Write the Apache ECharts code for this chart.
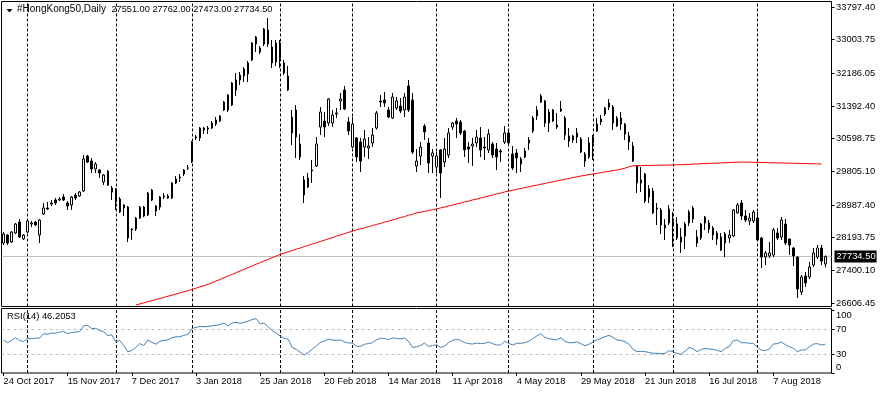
<!DOCTYPE html>
<html><head><meta charset="utf-8">
<script src="https://cdn.jsdelivr.net/npm/echarts@6/dist/echarts.min.js"></script>
<style>html,body{margin:0;padding:0;background:#fff}#c{width:880px;height:395px}</style>
</head><body><div id="c"></div>
<script>
// ---- data ----
const firstDay = '2017-10-24';
const lastDay = '2018-08-24';
const holidays = ['2017-12-25','2017-12-26','2018-01-01','2018-02-16','2018-02-19','2018-03-30',
  '2018-04-02','2018-04-03','2018-04-05','2018-05-01','2018-05-22','2018-06-18','2018-07-02'];

const openP = [
28063,28257,28087,28306,28573,28160,28330,28524,28573,28257,
28767,28913,29010,29108,29108,29180,29035,28986,29229,29205,
29326,30177,30055,29861,29837,29545,29812,29302,29351,28816,
28986,28937,28379,28403,28670,28937,28743,29351,28962,28937,
29180,29156,29156,29521,29666,29739,29880,30031,30614,30614,
30857,30833,30857,30954,31027,31295,31659,31416,31781,32145,
32121,32169,32510,32898,32801,32898,33239,32825,32461,32923,
32437,31781,31124,31295,30468,29594,29642,29812,29934,30881,
31027,30979,30979,31197,31513,31781,31003,30395,30614,30517,
30395,30371,30493,30857,31513,31538,31295,31100,31343,31392,
31295,31878,31538,29934,30177,30906,30493,30177,29909,30323,
30031,30201,30881,31027,31003,30784,30395,30420,30493,30614,
30395,30323,30468,30347,30298,30517,30736,30225,30250,30104,
30152,30493,30784,31149,31489,31513,30979,31295,30930,31319,
31100,30663,30663,30638,30590,30055,30152,30493,30784,31003,
31197,31367,31367,30906,31100,30954,30663,30420,29934,29521,
29739,29180,29326,28889,28865,28427,28549,28500,28524,28087,
28233,28549,28913,28063,28184,28694,28549,28427,28306,28208,
28063,28184,28233,28792,29035,28719,28597,28597,28670,28184,
27722,27747,27771,28306,28208,28524,28160,27941,27722,26872,
27261,27236,27528,27722,27941,27551];
const highP = [
28330,28281,28354,28549,28646,28281,28646,28597,28597,28646,
29035,29059,29108,29156,29180,29253,29083,29205,29278,29326,
30201,30201,30128,30031,29861,29739,29837,29448,29399,29180,
29010,28962,28427,28694,28962,28962,29302,29375,28986,29205,
29278,29253,29545,29691,29739,29861,29958,30541,30687,30881,
30881,30906,31027,31124,31173,31513,31683,31975,32194,32218,
32339,32485,32947,33093,32850,33287,33530,32996,32996,32996,
32510,32364,31295,31416,30711,29691,29764,30080,30638,31367,
31246,31586,31295,31343,31708,31878,31124,31124,30638,30614,
30809,30638,30857,31270,31659,31732,31367,31708,31610,31586,
31708,32024,31708,30347,30517,30954,30614,30347,30274,30347,
30614,30857,31003,31100,31052,30809,30517,30614,30809,30881,
30638,30833,30517,30493,30347,30906,30784,30420,30347,30152,
30371,30638,31149,31392,31683,31538,31319,31319,31222,31513,
31149,30857,30687,30857,30638,30274,30638,30687,31100,31173,
31367,31562,31416,31149,31246,30979,30760,30517,29958,29909,
29764,29472,29399,29035,28913,28646,28986,28816,28694,28427,
28573,28865,28962,28379,28549,28719,28622,28476,28354,28306,
28330,28379,28889,29035,29108,28865,28792,28865,28816,28208,
27868,28087,28427,28427,28694,28646,28170,27965,27740,27285,
27358,27601,27941,28014,28014,27762];
const lowP = [
28014,28014,28063,28281,28184,28136,28306,28451,28476,28063,
28743,28865,28962,28986,29083,29083,28865,28865,29108,29180,
29302,30007,29764,29764,29642,29472,29448,29108,28865,28792,
28719,28087,28136,28354,28646,28694,28719,29083,28719,28865,
29132,29132,29132,29496,29545,29691,29837,30007,30566,30541,
30711,30711,30833,30906,31003,31270,31246,31392,31635,31902,
31975,31975,32485,32704,32655,32850,32825,32315,32364,32315,
32145,31756,30444,30128,30080,29035,29399,29521,29909,30687,
30638,30906,30881,31100,31295,31295,30687,30371,30031,29788,
30152,30104,30395,30820,31367,31367,31100,31076,31295,31222,
31124,31246,30225,29788,29958,30566,29764,29764,29764,29156,
29909,30128,30809,30614,30687,30152,30007,29934,30395,30152,
30080,30250,30128,29837,30031,30468,30468,29837,29764,29788,
30128,30323,30736,31052,31465,30881,30760,31003,30833,31246,
30566,30395,30493,30493,30250,29909,30104,30080,30760,30930,
31149,31295,30809,30881,30809,30566,30323,30031,29278,29302,
29035,29035,28767,28500,28281,28136,28500,27965,28136,27820,
27917,28476,28549,27965,28136,28379,28306,28136,28014,27868,
27722,28063,28208,28780,28622,28573,28500,28549,28112,27455,
27528,27698,27722,28136,28136,28014,27771,27504,26726,26799,
26993,27188,27479,27674,27528,27473];
const closeP = [
28281,28063,28330,28524,28208,28257,28597,28549,28500,28622,
28913,28889,29035,29035,29132,29108,28962,29180,29156,29302,
30104,30031,29861,29982,29764,29715,29472,29399,29059,29132,
28913,28184,28403,28670,28937,28719,29278,29108,28840,29180,
29205,29205,29521,29618,29642,29837,29890,30517,30638,30857,
30809,30857,30979,31052,31149,31489,31295,31951,32024,32024,
32291,32437,32923,33068,32704,33263,32898,32437,32923,32558,
32194,32121,30736,30638,30152,29229,29423,29837,30468,31246,
30881,31562,31173,31222,31562,31319,30784,30954,30152,30055,
30590,30420,30687,31222,31489,31465,31124,31610,31513,31270,
31610,31295,30274,30055,30395,30760,30007,30250,30177,29764,
30347,30736,30979,30954,30736,30323,30347,30468,30638,30323,
30371,30711,30201,30152,30274,30736,30493,29885,30128,29982,
30298,30566,31100,31295,31635,30979,31246,31027,30881,31270,
30687,30541,30566,30736,30274,30225,30493,30638,30954,31076,
31343,31465,30979,31100,30954,30711,30517,30055,29521,29594,
29083,29375,28792,28913,28500,28500,28889,28573,28184,28208,
28524,28816,28646,28208,28524,28549,28403,28257,28160,27893,
28281,28257,28865,28986,28719,28622,28670,28816,28136,27722,
27820,27820,28379,28184,28622,28063,28014,27747,26945,27236,
27091,27479,27820,27941,27625,27734.5];

// 200-period moving average, first drawn value at bar index maStartIndex
const maStartIndex = 33;
const ma200 = [
26556,26583,26608,26636,26661,26690,26714,26743,26770,26795,26824,26849,26879,26903,26935,
26964,26998,27026,27059,27095,27139,27176,27221,27258,27302,27340,27384,27421,27465,27503,27547,27584,27628,27665,27708,27745,27788,
27817,27851,27878,27913,27941,27975,28002,28038,28066,28101,28129,28164,28192,28228,28256,28291,28319,28354,
28379,28409,28431,28462,28485,28515,28538,28569,28592,28624,28648,28681,28704,28737,28760,28794,28809,28833,28848,28872,28889,
28915,28936,28964,28984,29013,29033,29061,29082,29110,29130,29159,29179,29207,29228,29256,29276,29304,29326,
29344,29369,29385,29410,29426,29450,29467,29491,29507,29532,29548,29572,29589,29613,29629,29654,29670,29691,
29705,29726,29739,29758,29770,29791,29803,29823,29836,29856,29882,29914,29939,
29944,29943,29947,29947,29951,29950,29954,29954,29957,29958,
29963,29966,29972,29974,29981,29983,29989,29992,29998,30000,30006,30009,30015,30017,30024,30026,30031,
30028,30028,30023,30023,30019,30018,30014,30014,30009,30009,30005,30004,30000,29999,29995,29994,29990,29988,29986,29982];

const rsi14 = [
52.8,48.5,52,56.5,52,50.5,55.5,55,55.5,56,
63,62,64,63.5,65.5,66.5,63,65,65.5,66.5,
75.7,76,71,71.5,68,66,60,61,50,52,
44,34,36,41,47,44,53,49,46,51,
52,53,56.5,58,58,60.5,61.5,71,73,74.5,
74,74.5,75.5,76.5,77.5,80,75.5,80,81,79.5,
81,83,85.5,87,78.5,80,74,68,64,59,
55.5,54,41,38,33,29,33,38,43,49,
51,54,53,52,53,50,48,48,43,42.5,
46,47,48.5,53,55.5,55.5,53.5,56,55.5,54.5,
56,51,41,42,44,48,42.5,44,45,41,
42.7,48.5,52.3,53.9,52.3,48.5,47,46.4,48,47,
47.5,49.6,47,44.8,44.8,50.7,47.5,44.8,47.5,47.5,
48.5,50.7,55,59.2,63,57.1,55,53.9,52.8,56.5,
50.7,48.5,48.5,49.6,47,43.7,45.9,49.6,52.8,55.5,
58.1,60.3,57.1,52.8,52.3,50.1,45.9,37.9,34.1,34.7,
34.1,33,31.5,31.5,30.9,31.5,35.7,34.1,31.5,29.9,
35.2,41,38.4,34.1,37.9,39,38.4,37.9,36.3,34.1,
39.5,42,51.7,52.8,48.5,48.5,47.5,47.5,41,36.8,
35.7,38.4,46.4,47,49.6,45.3,42.1,39.5,34.1,36.8,
36.8,42.1,46.4,47,44.8,46.2053];

const priceTicks = [26606.45,27400.10,28193.75,28987.40,29805.10,30598.75,31392.40,32186.05,33003.75,33797.40];
const rsiTicks = [0,30,70,100];
const rsiLevels = [30,70];
const priceMin = 26520, priceMax = 33931;
const lastClose = 27734.50;
const symbolName = '#HongKong50,Daily';
const lastBarText = '27551.00 27762.00 27473.00 27734.50';
const rsiText = 'RSI(14) 46.2053';
const labelEvery = 16;

// ---- build ----
const dates = [];
for (let d = new Date(firstDay + 'T00:00:00Z'); d.getTime() <= new Date(lastDay + 'T00:00:00Z').getTime(); d.setUTCDate(d.getUTCDate() + 1)) {
  const wd = d.getUTCDay();
  const s = d.toISOString().slice(0, 10);
  if (wd === 0 || wd === 6 || holidays.indexOf(s) >= 0) continue;
  dates.push(s);
}
const N = dates.length;
const cats = dates.concat(['']);
const MON = ['Jan','Feb','Mar','Apr','May','Jun','Jul','Aug','Sep','Oct','Nov','Dec'];
function fmtDate(s) { if (!s) return ''; const p = s.split('-'); return (+p[2]) + ' ' + MON[+p[1] - 1] + ' ' + p[0]; }
const monthStarts = [];
for (let i = 1; i < N; i++) if (dates[i].slice(5, 7) !== dates[i - 1].slice(5, 7)) monthStarts.push(i);

const ohlc = openP.map((o, i) => [o, closeP[i], lowP[i], highP[i]]);
const maFull = new Array(maStartIndex).fill(null).concat(ma200);
const labelIdx = (idx) => idx % labelEvery === 0 && idx < N;
const FONT = 'Liberation Sans, Arial, sans-serif';
const sepLine = monthStarts.map(i => ({ xAxis: cats[i], lineStyle: { color: '#000', type: [3, 2], width: 1 } }));

const chart = echarts.init(document.getElementById('c'), null, { renderer: 'canvas' });
chart.setOption({
  animation: false,
  backgroundColor: '#fff',
  textStyle: { fontFamily: FONT },
  title: [
    { text: '{a|' + symbolName + '}  {b|' + lastBarText + '}', left: 17, top: 4, padding: 0,
      textStyle: { fontSize: 10, fontWeight: 'normal', fontFamily: FONT, color: '#000',
        rich: { a: { fontSize: 10, fontWeight: 'normal', fontFamily: FONT, color: '#000' },
                b: { fontSize: 9.2, fontWeight: 'normal', fontFamily: FONT, color: '#000' } } } },
    { text: rsiText, left: 7, top: 312, padding: 0,
      textStyle: { fontSize: 9.4, fontWeight: 'normal', fontFamily: FONT, color: '#000' } }
  ],
  graphic: [{ type: 'polygon', shape: { points: [[6.5, 9], [12.5, 9], [9.5, 12.5]] }, style: { fill: '#000' } }],
  grid: [
    { left: 1.5, width: 830, top: 1.5, height: 305, show: true, borderColor: '#000', borderWidth: 1, backgroundColor: 'transparent', containLabel: false, outerBoundsMode: 'none' },
    { left: 1.5, width: 830, top: 308.5, height: 64.5, show: true, borderColor: '#000', borderWidth: 1, backgroundColor: 'transparent', containLabel: false, outerBoundsMode: 'none' }
  ],
  xAxis: [
    { type: 'category', gridIndex: 0, data: cats, boundaryGap: true,
      axisLine: { show: false }, axisTick: { show: false }, axisLabel: { show: false }, splitLine: { show: false } },
    { type: 'category', gridIndex: 1, data: cats, boundaryGap: true,
      axisLine: { show: false },
      axisTick: { show: true, alignWithLabel: true, interval: labelIdx, length: 3, lineStyle: { color: '#000' } },
      axisLabel: { show: true, interval: labelIdx, formatter: (v) => fmtDate(v), align: 'left', margin: 4,
        fontSize: 9.3, fontFamily: FONT, color: '#000' },
      splitLine: { show: false } }
  ],
  yAxis: [
    { type: 'value', gridIndex: 0, position: 'right', min: priceMin, max: priceMax,
      splitLine: { show: false }, axisLine: { show: false },
      axisTick: { show: true, customValues: priceTicks, length: 3, lineStyle: { color: '#000' } },
      axisLabel: { customValues: priceTicks, formatter: (v) => v.toFixed(2), margin: 4.5,
        fontSize: 9.4, fontFamily: FONT, color: '#000' } },
    { type: 'value', gridIndex: 1, position: 'right', min: 0, max: 103.2,
      splitLine: { show: false }, axisLine: { show: false },
      axisTick: { show: true, customValues: rsiTicks, length: 3, lineStyle: { color: '#000' } },
      axisLabel: { customValues: rsiTicks, margin: 4.5, fontSize: 9.4, fontFamily: FONT, color: '#000',
        formatter: (v) => v === 100 ? '{t|100}' : (v === 0 ? '{u|0}' : String(v)),
        rich: { t: { padding: [9, 0, 0, 0], fontSize: 9.4, fontFamily: FONT, color: '#000' },
                u: { padding: [0, 0, 11, 0], fontSize: 9.4, fontFamily: FONT, color: '#000' } } } }
  ],
  series: [
    { type: 'candlestick', name: 'price', xAxisIndex: 0, yAxisIndex: 0, data: ohlc, barWidth: 2,
      itemStyle: { color: '#fff', color0: '#000', borderColor: '#000', borderColor0: '#000', borderWidth: 1 },
      emphasis: { disabled: true }, z: 3,
      markLine: { symbol: ['none', 'none'], silent: true, z: 1, animation: false,
        label: { show: false },
        data: sepLine.concat([{ yAxis: lastClose, lineStyle: { color: '#c0c0c0', type: 'solid', width: 1 },
          label: { show: true, position: 'end', formatter: lastClose.toFixed(2), distance: 3,
            backgroundColor: '#000', color: '#fff', padding: [2, 1, 1, 2], fontSize: 9.4, fontFamily: FONT } }]) } },
    { type: 'line', name: 'MA', xAxisIndex: 0, yAxisIndex: 0, data: maFull, showSymbol: false, z: 4,
      color: '#ff0000', lineStyle: { color: '#ff0000', width: 1 }, emphasis: { disabled: true } },
    { type: 'line', name: 'RSI', xAxisIndex: 1, yAxisIndex: 1, data: rsi14, showSymbol: false, z: 3,
      color: '#4682b4', lineStyle: { color: '#4682b4', width: 1 }, emphasis: { disabled: true },
      markLine: { symbol: ['none', 'none'], silent: true, z: 1, animation: false, label: { show: false },
        data: rsiLevels.map(v => ({ yAxis: v, lineStyle: { color: '#c0c0c0', type: [3, 3], width: 1 } })).concat(sepLine) } }
  ]
});
</script>
</body></html>
